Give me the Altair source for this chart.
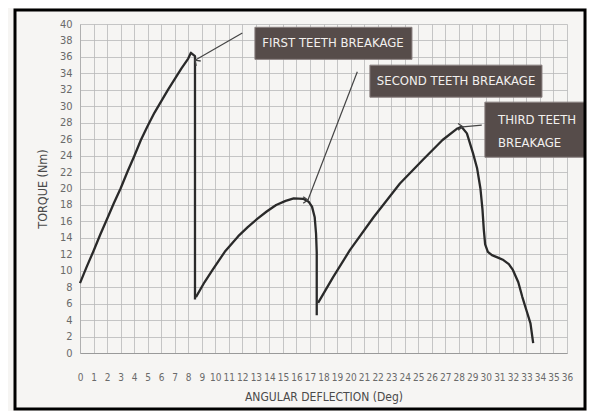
import altair as alt
import pandas as pd

# ---- data ----
curve1_x = [0, 0.5, 1, 1.5, 2, 2.5, 3, 3.5, 4, 4.5, 5, 5.5, 6, 6.5, 7, 7.5, 8, 8.2, 8.5, 8.5]
curve1_y = [8.5, 10.5, 12.4, 14.4, 16.3, 18.2, 20.0, 22.0, 23.9, 25.9, 27.6, 29.2,
            30.6, 32.0, 33.3, 34.6, 35.8, 36.5, 36.1, 6.5]
curve2_x = [8.57, 9.2, 9.8, 10.7, 11.7, 12.4, 13.1, 13.8, 14.5, 15.2, 15.8, 16.5,
            16.9, 17.15, 17.35, 17.45, 17.5, 17.5]
curve2_y = [6.8, 8.6, 10.1, 12.3, 14.2, 15.3, 16.3, 17.2, 18.0, 18.5, 18.8, 18.75,
            18.4, 17.8, 16.5, 14.5, 12.2, 4.6]
curve3_x = [17.6, 18.7, 19.95, 21.7, 23.65, 25.35, 26.8, 27.9, 28.2, 28.6, 29.05,
            29.35, 29.6, 29.75, 29.85, 29.95, 30.15, 30.45, 30.9, 31.3, 31.7, 32.0,
            32.4, 32.7, 33.0, 33.3, 33.5]
curve3_y = [6.1, 9.2, 12.5, 16.5, 20.6, 23.5, 25.9, 27.3, 27.5, 26.7, 24.3,
            22.5, 20.0, 17.5, 15.0, 13.2, 12.3, 11.9, 11.6, 11.3, 10.8, 10.1,
            8.6, 6.8, 5.2, 3.6, 1.2]

x_ticks = list(range(0, 37))
y_ticks = list(range(0, 41, 2))

box_labels = ["FIRST TEETH BREAKAGE", "SECOND TEETH BREAKAGE", "THIRD TEETH\nBREAKAGE"]
box_x1 = [12.93, 21.43, 29.93]
box_x2 = [24.54, 34.15, 37.32]
box_y1 = [39.6, 35.0, 30.5]
box_y2 = [35.7, 31.1, 23.8]
text_x = [18.7, 27.8, 30.9]
text_y = [37.65, 33.05, 28.3]
text_align = ["center", "center", "left"]

arrow_x1 = [12.0, 20.5, 29.7]
arrow_y1 = [38.9, 34.2, 27.7]
arrow_x2 = [8.5, 16.85, 28.3]
arrow_y2 = [35.6, 18.6, 27.5]
arrow_angle = [150, 111, 174]

FONT = "Liberation Sans Narrow, DejaVu Sans Condensed, Arial Narrow, sans-serif"
INK = "#2a2a2a"

rows = []
for seg, (xs_, ys_) in enumerate([(curve1_x, curve1_y), (curve2_x, curve2_y), (curve3_x, curve3_y)]):
    for i, (a, b) in enumerate(zip(xs_, ys_)):
        rows.append({"seg": seg, "i": i, "x": a, "y": b})
curves = pd.DataFrame(rows)

boxes = pd.DataFrame({"label": box_labels, "x1": box_x1, "x2": box_x2,
                      "y1": box_y1, "y2": box_y2, "tx": text_x, "ty": text_y,
                      "align": text_align})
arrows = pd.DataFrame({"x1": arrow_x1, "y1": arrow_y1, "x2": arrow_x2,
                       "y2": arrow_y2, "angle": arrow_angle})

xs = alt.Scale(domain=[0, 36], nice=False)
ys = alt.Scale(domain=[0, 40], nice=False)

xaxis = alt.Axis(values=x_ticks, title="ANGULAR DEFLECTION (Deg)", grid=True,
                 gridColor="#b9b9b9", gridWidth=0.8, ticks=False,
                 domainColor="#9a9a9a", labelColor="#6a6a6a", labelFont=FONT,
                 labelFontSize=10, labelPadding=19, labelFlush=False,
                 labelOverlap=False,
                 titleFont=FONT, titleFontSize=12, titleFontWeight="normal",
                 titleColor="#4a4a4a", titlePadding=9)
yaxis = alt.Axis(values=y_ticks, title="TORQUE (Nm)", grid=True,
                 gridColor="#b9b9b9", gridWidth=0.8, ticks=False,
                 domainColor="#b0b0b0", labelColor="#6a6a6a", labelFont=FONT,
                 labelFontSize=11, labelPadding=8, labelFlush=False,
                 labelOverlap=False,
                 titleFont=FONT, titleFontSize=12.5, titleFontWeight="normal",
                 titleColor="#4a4a4a", titlePadding=10)


def X(field):
    return alt.X(field, scale=xs, axis=xaxis)


def Y(field):
    return alt.Y(field, scale=ys, axis=yaxis)


lines = alt.Chart(curves).mark_line(color=INK, strokeWidth=2.3, strokeJoin="round").encode(
    x=X("x:Q"), y=Y("y:Q"), detail="seg:N", order="i:Q",
)

rects = alt.Chart(boxes).mark_rect(color="#564c4a", stroke="#8a8080", strokeWidth=1).encode(
    x=X("x1:Q"), x2="x2:Q", y=Y("y1:Q"), y2="y2:Q"
)
texts_c = alt.Chart(boxes[boxes["align"] == "center"]).mark_text(
    color="#f2f0ee", font=FONT, fontSize=13, align="center", baseline="middle"
).encode(x=X("tx:Q"), y=Y("ty:Q"), text="label:N")
texts_l = alt.Chart(boxes[boxes["align"] == "left"]).mark_text(
    color="#f2f0ee", font=FONT, fontSize=13, align="left", baseline="middle",
    lineBreak="\n", lineHeight=23
).encode(x=X("tx:Q"), y=Y("ty:Q"), text="label:N")

arrow_lines = alt.Chart(arrows).mark_rule(color="#444444", strokeWidth=1.2).encode(
    x=X("x1:Q"), y=Y("y1:Q"), x2="x2:Q", y2="y2:Q"
)
arrow_heads = alt.Chart(arrows).mark_point(
    shape="M-1,-0.7L0,0L-1,0.7", filled=False, color="#444444",
    strokeWidth=1.3, size=90, opacity=1
).encode(x=X("x2:Q"), y=Y("y2:Q"), angle="angle:Q")

frame = alt.Chart(pd.DataFrame({"a": [0]})).mark_rect(
    fill=None, stroke="#000000", strokeWidth=3
).encode(x=alt.value(-65), x2=alt.value(505), y=alt.value(-14), y2=alt.value(385))

chart = alt.layer(lines, arrow_lines, arrow_heads, rects, texts_c, texts_l, frame).properties(
    width=487, height=329,
    autosize=alt.AutoSizeParams(type="none"),
    padding={"left": 72, "top": 16, "right": 20, "bottom": 58},
    background="#f6f5f3",
).configure_view(stroke=None)

chart.save("out.html", embed_options={"renderer": "svg", "actions": False})
